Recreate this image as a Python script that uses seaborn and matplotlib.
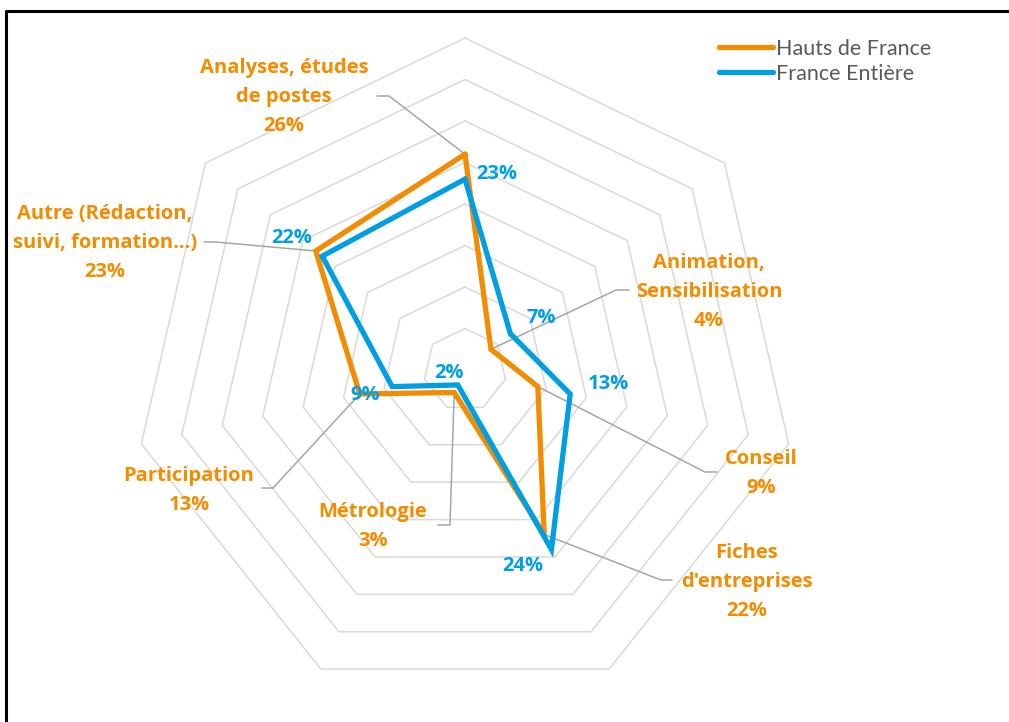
import numpy as np
import pandas as pd
import matplotlib
matplotlib.use("Agg")
import matplotlib.pyplot as plt
import seaborn as sns
from matplotlib.lines import Line2D

sns.set_theme(style="white")
plt.rcParams["font.family"] = ["Open Sans", "DejaVu Sans"]

categories = ["Analyses, études\nde postes", "Animation,\nSensibilisation", "Conseil",
              "Fiches\nd'entreprises", "Métrologie", "Participation",
              "Autre (Rédaction,\nsuivi, formation…)"]
hdf = [26, 4, 9, 22, 3, 13, 23]
france = [23, 7, 13, 24, 2, 9, 22]
series_names = ["Hauts de France", "France Entière"]
ring_steps = [5, 10, 15, 20, 25, 30, 35, 40]

ORANGE = "#F28C00"
BLUE = "#009FE3"
GRID = "#D9D9D9"
LEADER = "#A6A6A6"

W, H = 1009, 722
CX, CY, UNIT = 465, 370, 8.3  # centre in pixels, pixels per percent


def P(px, py):
    # pixel position -> data coordinates
    return (px - CX) / UNIT, (CY - py) / UNIT


n = len(categories)
theta = np.arange(n) * 2 * np.pi / n


def xy(vals):
    v = np.asarray(vals, dtype=float)
    return v * np.sin(theta), v * np.cos(theta)


fig = plt.figure(figsize=(W / 100, H / 100), dpi=100)
ax = fig.add_axes([0, 0, 1, 1])
ax.set_xlim(P(0, 0)[0], P(W, 0)[0])
ax.set_ylim(P(0, H)[1], P(0, 0)[1])
ax.set_aspect("equal")
ax.axis("off")

# heptagon rings
for r in ring_steps:
    gx, gy = xy([r] * n)
    ax.plot(np.append(gx, gx[0]), np.append(gy, gy[0]), color=GRID, lw=1.1, zorder=1)

# series
rows = []
for name, vals in zip(series_names, [hdf, france]):
    sx, sy = xy(vals)
    for k in list(range(n)) + [0]:
        rows.append({"serie": name, "x": sx[k], "y": sy[k]})
df = pd.DataFrame(rows)
sns.lineplot(data=df, x="x", y="y", hue="serie", units="serie", estimator=None,
             sort=False, palette=[ORANGE, BLUE], lw=3.8, solid_joinstyle="miter",
             ax=ax, legend=False, zorder=3)

hx, hy = xy(hdf)

# orange category labels with leader lines (label centre, leader path in pixels)
label_pos = [(284, 97), (709, 292), (761, 473), (747, 582), (373, 527), (189, 490), (105, 243)]
leader_paths = [
    [(377, 96), (389, 96)],
    [(629, 290), (616, 290)],
    [(717, 472), (705, 472)],
    [(672, 580), (661, 580)],
    [(438, 525), (450, 525)],
    [(262, 488), (273, 488)],
    [(204, 242), (216, 242)],
]
for i in range(n):
    tx, ty = P(*label_pos[i])
    ax.text(tx, ty, f"{categories[i]}\n{hdf[i]}%", color=ORANGE, fontsize=14.5,
            fontweight="bold", ha="center", va="center", linespacing=1.6, zorder=5)
    pts = [P(*p) for p in leader_paths[i]] + [(hx[i], hy[i])]
    ax.plot([p[0] for p in pts], [p[1] for p in pts], color=LEADER, lw=1.1, zorder=2)

# blue value labels
blue_pos = [(497, 174), (541, 318), (608, 384), (523, 566), (449, 373), (365, 395), (292, 238)]
for i in range(n):
    tx, ty = P(*blue_pos[i])
    ax.text(tx, ty, f"{france[i]}%", color=BLUE, fontsize=14.5, fontweight="bold",
            ha="center", va="center", zorder=5)

# legend
handles = [Line2D([], [], color=c, lw=3.8, solid_capstyle="round") for c in [ORANGE, BLUE]]
leg = fig.legend(handles, series_names, loc="upper left", bbox_to_anchor=(708 / W, 1 - 28 / H),
                 frameon=False, prop={"family": ["Lato"], "size": 15.5}, handlelength=2.5,
                 handletextpad=0.15, labelspacing=0.22, borderpad=0)
for t in leg.get_texts():
    t.set_color("#595959")

# outer frame (top and left edges only)
fig.add_artist(Line2D([6 / W, 6 / W, 1], [0, 1 - 11 / H, 1 - 11 / H], color="black", lw=2.2,
                      transform=fig.transFigure))

fig.savefig("out.png", dpi=100)
